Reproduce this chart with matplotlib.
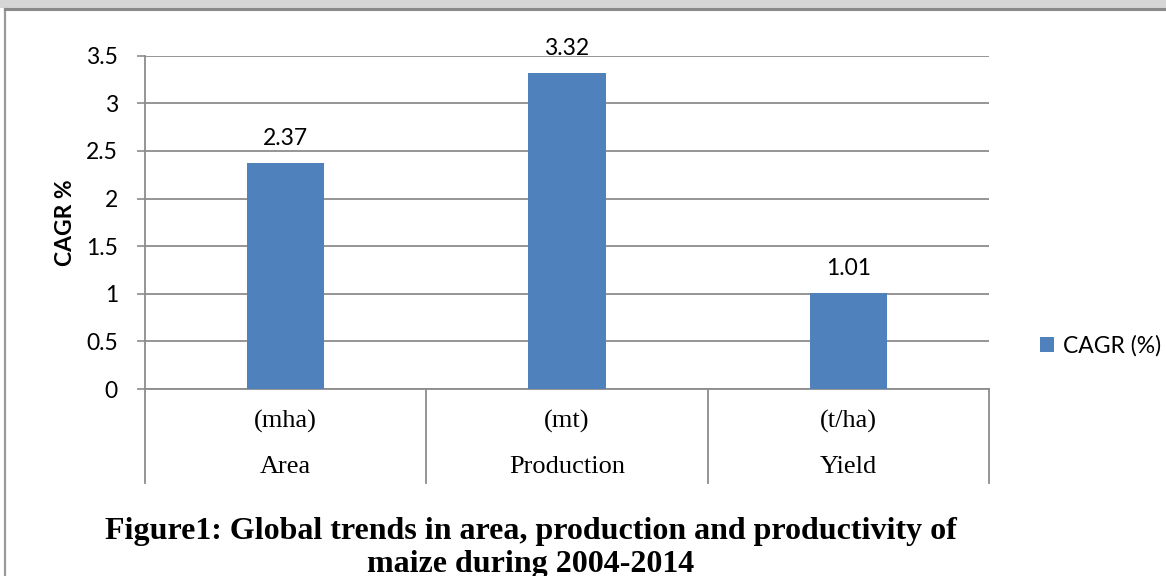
import matplotlib.pyplot as plt
from matplotlib.patches import Rectangle
from matplotlib.lines import Line2D

# data
categories = ['Area', 'Production', 'Yield']
units = ['(mha)', '(mt)', '(t/ha)']
cagr = [2.37, 3.32, 1.01]
yticks = [0, 0.5, 1, 1.5, 2, 2.5, 3, 3.5]

W, H = 1166, 576
bar_color = '#4F81BD'
grid_color = '#8c8c8c'
sans = ['Lato', 'DejaVu Sans']
serif = ['Liberation Serif', 'DejaVu Serif']
fs = 16.5

fig = plt.figure(figsize=(W / 100, H / 100), dpi=100)

# gray strip + page frame
fig.patches.append(Rectangle((0, 1 - 8 / H), 1, 8 / H, transform=fig.transFigure,
                             facecolor='#d6d6d6', edgecolor='none'))
fig.add_artist(Line2D([5 / W, 5 / W], [0, 1 - 9 / H], transform=fig.transFigure,
                      color='#9a9a9a', lw=1.6))
fig.add_artist(Line2D([5 / W, 1], [1 - 9 / H, 1 - 9 / H], transform=fig.transFigure,
                      color='#8a8a8a', lw=2.2))

# plot area in pixels
x0, x1 = 145, 989
y_top, y_zero = 55.7, 389
ax = fig.add_axes([x0 / W, (H - y_zero) / H, (x1 - x0) / W, (y_zero - y_top) / H])

xs = range(len(categories))
bars = ax.bar(xs, cagr, width=0.274, color=bar_color, label='CAGR (%)', zorder=3)
for x, v in zip(xs, cagr):
    ax.annotate(f'{v:.2f}', (x, v), xytext=(0, 10), textcoords='offset points',
                ha='center', va='bottom', fontsize=fs, family=sans)

ax.set_xlim(-0.5, 2.5)
ax.set_ylim(0, 3.5)
ax.set_yticks(yticks)
ax.set_yticklabels([f'{t:g}' for t in yticks], family=sans, fontsize=fs)
ax.tick_params(axis='y', length=6, width=1.2, color=grid_color, pad=13.5)
ax.set_xticks([])
ax.yaxis.grid(True, color=grid_color, lw=1.3, zorder=0)
for s in ['top', 'right']:
    ax.spines[s].set_visible(False)
ax.spines['left'].set_color(grid_color)
ax.spines['left'].set_linewidth(1.3)
ax.spines['bottom'].set_color(grid_color)
ax.spines['bottom'].set_linewidth(1.3)
ax.set_ylabel('CAGR %', family=sans, fontsize=fs, fontweight='bold', labelpad=7)

# two-level category axis below the plot
tr = ax.get_xaxis_transform()
ah = y_zero - y_top
for xd in [-0.5, 0.5, 1.5, 2.5]:
    ax.plot([xd, xd], [0, -(483 - y_zero) / ah], transform=tr, color=grid_color,
            lw=1.3, clip_on=False)
for x, c, u in zip(xs, categories, units):
    ax.text(x, -(421 - y_zero) / ah, u, transform=tr, ha='center', va='center',
            family=serif, fontsize=19)
    ax.text(x, -(467 - y_zero) / ah, c, transform=tr, ha='center', va='center',
            family=serif, fontsize=19)

leg = ax.legend(loc='center left', bbox_to_anchor=(1019 / W, (H - 346) / H),
                bbox_transform=fig.transFigure, frameon=False,
                prop={'family': sans, 'size': fs}, handlelength=0.62,
                handleheight=0.62, handletextpad=0.4)

fig.text(531 / W, (H - 548) / H,
         'Figure1: Global trends in area, production and productivity of\nmaize during 2004-2014',
         ha='center', va='center', family=serif, fontsize=23, fontweight='bold',
         linespacing=1.17)

fig.savefig('out.png', dpi=100)
